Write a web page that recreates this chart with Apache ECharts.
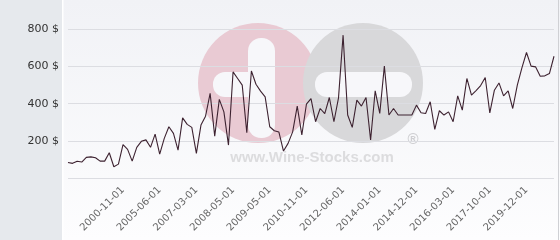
<!DOCTYPE html>
<html>
<head>
<meta charset="utf-8">
<script src="https://cdn.jsdelivr.net/npm/echarts@6/dist/echarts.min.js"></script>
<style>
html,body{margin:0;padding:0;background:#fff;}
#chart{width:560px;height:240px;}
</style>
</head>
<body>
<div id="chart"></div>
<script>
// ---- data ----
const tickLabels = ['2000-11-01','2005-06-01','2007-03-01','2008-05-01','2009-05-01','2010-11-01',
  '2012-06-01','2014-01-01','2014-12-01','2016-03-01','2017-10-01','2019-12-01'];
const tickIndices = [12,20,28,36,44,52,60,68,76,84,92,100];
const prices = [
  85,80,91,87,112,115,110,92,92,137,
  62,76,180,155,92,166,198,206,166,237,
  130,214,276,241,151,324,289,273,134,285,
  333,455,226,423,356,178,570,535,499,244,
  575,504,467,436,276,255,248,146,187,249,
  387,232,397,427,303,374,347,433,303,431,
  767,339,273,419,387,433,205,469,348,601,
  339,374,339,339,339,339,392,351,347,410,
  262,362,339,356,303,442,365,535,446,470,
  497,540,350,472,511,442,469,374,499,592,
  674,601,597,547,549,561,654
];
const yTicks = [0,200,400,600,800];

const categories = prices.map((_, i) => {
  const k = tickIndices.indexOf(i);
  return k >= 0 ? tickLabels[k] : '';
});

const chart = echarts.init(document.getElementById('chart'), null, {renderer: 'canvas'});
chart.setOption({
  animation: false,
  backgroundColor: new echarts.graphic.LinearGradient(0, 0, 0, 1, [
    {offset: 0, color: '#f1f2f6'}, {offset: 1, color: '#fdfdfe'}
  ]),
  graphic: [
    {type: 'rect', z: -20, shape: {x: 0, y: 0, width: 62, height: 240}, style: {fill: '#e6e9ed'}},
    {type: 'rect', z: -20, shape: {x: 62, y: 0, width: 1.5, height: 240}, style: {fill: '#ffffff'}},
    {type: 'line', z: -20, shape: {x1: 558.5, y1: 0, x2: 558.5, y2: 240}, style: {stroke: '#cfd0d4', lineWidth: 1}},
    // watermark logo
    {type: 'circle', z: -15, shape: {cx: 258, cy: 83, r: 60}, style: {fill: '#e9cad3'}},
    {type: 'rect', z: -14, shape: {x: 248, y: 38, width: 27, height: 100, r: 13}, style: {fill: '#f7f7fa'}},
    {type: 'rect', z: -14, shape: {x: 213, y: 72, width: 60, height: 25, r: 12}, style: {fill: '#f7f7fa'}},
    {type: 'circle', z: -13, shape: {cx: 363, cy: 83, r: 60}, style: {fill: '#d8d8da'}},
    {type: 'rect', z: -12, shape: {x: 315, y: 72, width: 97, height: 25, r: 12}, style: {fill: '#f7f7fa'}},
    {type: 'text', z: -12, style: {text: 'www.Wine-Stocks.com', x: 312, y: 165, fill: '#dcdcde',
      font: 'bold 15px "Liberation Sans", Arial, sans-serif', textAlign: 'center', textVerticalAlign: 'bottom'}},
    {type: 'text', z: -12, style: {text: '®', x: 413, y: 140, fill: '#cfcfd2',
      font: 'bold 15px "Liberation Sans", Arial, sans-serif', textAlign: 'center', textVerticalAlign: 'middle'}}
  ],
  grid: {left: 68, right: 6, top: 29, bottom: 61.7, containLabel: false},
  xAxis: {
    type: 'category',
    boundaryGap: false,
    data: categories,
    axisLine: {show: false},
    axisTick: {show: false},
    splitLine: {show: false},
    axisLabel: {
      interval: (idx) => tickIndices.indexOf(idx) >= 0,
      rotate: 45,
      margin: 10,
      fontSize: 10,
      color: '#666666',
      fontFamily: '"DejaVu Sans", sans-serif'
    }
  },
  yAxis: {
    type: 'value',
    min: yTicks[0],
    max: yTicks[yTicks.length - 1],
    interval: 200,
    axisLine: {show: false},
    axisTick: {show: false},
    splitLine: {lineStyle: {color: '#dcdde2', width: 1}},
    axisLabel: {
      formatter: (v) => v === 0 ? '' : v + ' $',
      margin: 9,
      fontSize: 11,
      color: '#333333',
      fontFamily: '"DejaVu Sans", sans-serif'
    }
  },
  series: [{
    type: 'line',
    data: prices,
    symbol: 'none',
    lineStyle: {color: '#3d2230', width: 1.1},
    z: 5
  }]
});
</script>
</body>
</html>
